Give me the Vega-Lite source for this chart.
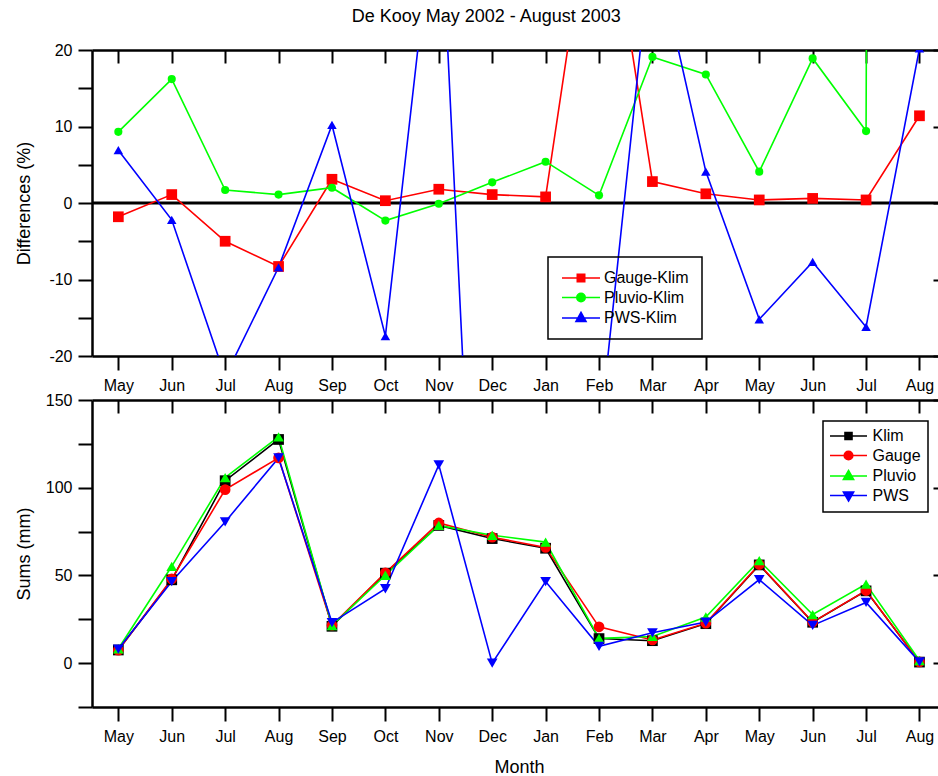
{
  "$schema": "https://vega.github.io/schema/vega-lite/v6.json",
  "padding": {"left": 15, "top": 8, "right": 0, "bottom": 0},
  "title": {"text": "De Kooy May 2002 - August 2003", "fontSize": 18, "fontWeight": "normal", "font": "Liberation Sans", "color": "black", "anchor": "middle", "offset": 16, "dx": 9},
  "config": {
    "view": {"stroke": null},
    "font": "Liberation Sans",
    "axis": {"domainColor": "black", "domainWidth": 2.5, "tickColor": "black", "tickWidth": 2, "labelFont": "Liberation Sans", "labelFontSize": 16, "labelColor": "black", "titleFont": "Liberation Sans", "titleFontSize": 18, "titleFontWeight": "normal", "titleColor": "black", "grid": false, "labelFlush": false, "labelOverlap": false}
  },
  "datasets": {
    "diff": [
      {"period": "May 2002", "Gauge-Klim": -1.8, "Pluvio-Klim": 9.3, "PWS-Klim": 6.9},
      {"period": "Jun 2002", "Gauge-Klim": 1.1, "Pluvio-Klim": 16.2, "PWS-Klim": -2.2},
      {"period": "Jul 2002", "Gauge-Klim": -5.0, "Pluvio-Klim": 1.7, "PWS-Klim": -22.7},
      {"period": "Aug 2002", "Gauge-Klim": -8.3, "Pluvio-Klim": 1.1, "PWS-Klim": -8.4},
      {"period": "Sep 2002", "Gauge-Klim": 3.1, "Pluvio-Klim": 2.0, "PWS-Klim": 10.2},
      {"period": "Oct 2002", "Gauge-Klim": 0.3, "Pluvio-Klim": -2.3, "PWS-Klim": -17.4},
      {"period": "Nov 2002", "Gauge-Klim": 1.8, "Pluvio-Klim": -0.1, "PWS-Klim": 44.3},
      {"period": "Dec 2002", "Gauge-Klim": 1.1, "Pluvio-Klim": 2.7, "PWS-Klim": -100},
      {"period": "Jan 2003", "Gauge-Klim": 0.8, "Pluvio-Klim": 5.4, "PWS-Klim": -29},
      {"period": "Feb 2003", "Gauge-Klim": 47.5, "Pluvio-Klim": 1.0, "PWS-Klim": -31},
      {"period": "Mar 2003", "Gauge-Klim": 2.8, "Pluvio-Klim": 19.1, "PWS-Klim": 35},
      {"period": "Apr 2003", "Gauge-Klim": 1.2, "Pluvio-Klim": 16.8, "PWS-Klim": 4.1},
      {"period": "May 2003", "Gauge-Klim": 0.4, "Pluvio-Klim": 4.1, "PWS-Klim": -15.2},
      {"period": "Jun 2003", "Gauge-Klim": 0.6, "Pluvio-Klim": 18.9, "PWS-Klim": -7.7},
      {"period": "Jul 2003", "Gauge-Klim": 0.4, "Pluvio-Klim": 9.4, "PWS-Klim": -16.2},
      {"period": "Aug 2003", "Gauge-Klim": 11.4, "Pluvio-Klim": 2000, "PWS-Klim": 20.2}
    ],
    "sums": [
      {"period": "May 2002", "Klim": 7.5, "Gauge": 7.4, "Pluvio": 8.2, "PWS": 8.0},
      {"period": "Jun 2002", "Klim": 47.5, "Gauge": 48.0, "Pluvio": 55.2, "PWS": 46.5},
      {"period": "Jul 2002", "Klim": 104, "Gauge": 98.9, "Pluvio": 105.8, "PWS": 80.5},
      {"period": "Aug 2002", "Klim": 127.5, "Gauge": 117, "Pluvio": 129, "PWS": 117},
      {"period": "Sep 2002", "Klim": 21, "Gauge": 21.6, "Pluvio": 21.4, "PWS": 23.1},
      {"period": "Oct 2002", "Klim": 51.3, "Gauge": 51.5, "Pluvio": 50.1, "PWS": 42.4},
      {"period": "Nov 2002", "Klim": 78.5, "Gauge": 79.9, "Pluvio": 78.5, "PWS": 113},
      {"period": "Dec 2002", "Klim": 71, "Gauge": 71.8, "Pluvio": 72.9, "PWS": 0},
      {"period": "Jan 2003", "Klim": 65.5, "Gauge": 66, "Pluvio": 69, "PWS": 46.5},
      {"period": "Feb 2003", "Klim": 14, "Gauge": 20.7, "Pluvio": 14.1, "PWS": 9.6},
      {"period": "Mar 2003", "Klim": 12.8, "Gauge": 13.2, "Pluvio": 15.2, "PWS": 17.3},
      {"period": "Apr 2003", "Klim": 22.5, "Gauge": 22.8, "Pluvio": 26.3, "PWS": 23.4},
      {"period": "May 2003", "Klim": 56, "Gauge": 56.2, "Pluvio": 58.4, "PWS": 47.6},
      {"period": "Jun 2003", "Klim": 23.3, "Gauge": 23.4, "Pluvio": 27.7, "PWS": 21.5},
      {"period": "Jul 2003", "Klim": 41.2, "Gauge": 41.4, "Pluvio": 45.1, "PWS": 34.6},
      {"period": "Aug 2003", "Klim": 0.6, "Gauge": 0.67, "Pluvio": 1.5, "PWS": 0.72}
    ]
  },
  "bounds": "flush",
  "spacing": 44,
  "vconcat": [
    {
      "width": 846,
      "height": 306,
      "resolve": {"axis": {"x": "independent", "y": "independent"}},
      "layer": [
        {
          "data": {"values": [{}]},
          "mark": {"type": "rule", "color": "black", "strokeWidth": 3},
          "encoding": {"y": {"datum": 0, "type": "quantitative", "axis": null}}
        },
        {
          "data": {"name": "diff"},
          "transform": [{"fold": ["Gauge-Klim", "Pluvio-Klim", "PWS-Klim"], "as": ["series", "value"]}],
          "mark": {"type": "line", "strokeWidth": 1.6, "clip": true},
          "encoding": {
            "x": {"field": "period", "type": "ordinal", "sort": null, "scale": {"type": "point", "padding": 0.42, "align": 0.587},
                  "axis": {"orient": "bottom", "title": null, "tickSize": 14, "labelPadding": 7, "labelAngle": 0, "labelExpr": "slice(datum.label, 0, 3)"}},
            "y": {"field": "value", "type": "quantitative", "scale": {"domain": [-20, 20], "nice": false, "zero": false},
                  "axis": {"orient": "left", "title": "Differences (%)", "values": [-20, -15, -10, -5, 0, 5, 10, 15, 20],
                           "labelExpr": "datum.value % 10 === 0 ? '' + datum.value : ''", "tickSize": 14, "labelPadding": 6,
                           "titleX": -68, "titleBaseline": "middle",
                           "encode": {"ticks": {"update": {"x2": {"signal": "datum.value % 10 === 0 ? -14 : -5"}}}}}},
            "color": {"field": "series", "type": "nominal",
                      "scale": {"domain": ["Gauge-Klim", "Pluvio-Klim", "PWS-Klim"], "range": ["#ff0000", "#00ff00", "#0000ff"]},
                      "legend": {"orient": "none", "legendX": 456, "legendY": 207, "title": null, "padding": 13, "rowPadding": 3.5,
                                 "labelFontSize": 16, "labelFont": "Liberation Sans", "labelColor": "black", "labelOffset": 15,
                                 "symbolSize": 100, "symbolOffset": 12, "strokeColor": "black",
                                 "encode": {
                                   "legend": {"update": {"strokeWidth": {"value": 1.5}}},
                                   "symbols": {"update": {
                                     "shape": {"signal": "datum.value === 'Gauge-Klim' ? 'M-3.8,0H3.8M-0.74,-0.74H0.74V0.74H-0.74Z' : datum.value === 'Pluvio-Klim' ? 'M-3.8,0H3.8M0.84,0A0.84,0.84,0,1,1,-0.84,0A0.84,0.84,0,1,1,0.84,0Z' : 'M-3.8,0H3.8M0,-1.1L1,0.7L-1,0.7Z'"},
                                     "fill": {"signal": "datum.value === 'Gauge-Klim' ? '#ff0000' : datum.value === 'Pluvio-Klim' ? '#00ff00' : '#0000ff'"},
                                     "stroke": {"signal": "datum.value === 'Gauge-Klim' ? '#ff0000' : datum.value === 'Pluvio-Klim' ? '#00ff00' : '#0000ff'"},
                                     "size": {"value": 100},
                                     "strokeWidth": {"value": 1.6},
                                     "opacity": {"value": 1}
                                   }}
                                 }}},
            "order": {"value": null}
          }
        },
        {
          "data": {"name": "diff"},
          "transform": [{"fold": ["Gauge-Klim", "Pluvio-Klim", "PWS-Klim"], "as": ["series", "value"]}],
          "mark": {"type": "point", "filled": true, "opacity": 1, "clip": true},
          "encoding": {
            "x": {"field": "period", "type": "ordinal", "sort": null,
                  "axis": {"orient": "top", "title": null, "labels": false, "tickSize": -13}},
            "y": {"field": "value", "type": "quantitative",
                  "axis": {"orient": "right", "title": null, "labels": false, "domain": false, "values": [-20, -10, 0, 10, 20], "tickSize": -5}},
            "color": {"field": "series", "type": "nominal", "legend": null},
            "shape": {"field": "series", "type": "nominal", "scale": {"domain": ["PWS-Klim", "Gauge-Klim", "Pluvio-Klim"], "range": ["triangle-up", "square", "circle"]}, "legend": null},
            "size": {"field": "series", "type": "nominal", "scale": {"domain": ["Pluvio-Klim", "PWS-Klim", "Gauge-Klim"], "range": [66, 115, 64]}, "legend": null}
          }
        }
      ]
    },
    {
      "width": 846,
      "height": 307,
      "resolve": {"axis": {"x": "independent", "y": "independent"}},
      "layer": [
        {
          "data": {"name": "sums"},
          "transform": [{"fold": ["Klim", "Gauge", "Pluvio", "PWS"], "as": ["series", "value"]}],
          "mark": {"type": "line", "strokeWidth": 1.6, "clip": true},
          "encoding": {
            "x": {"field": "period", "type": "ordinal", "sort": null, "scale": {"type": "point", "padding": 0.42, "align": 0.587},
                  "axis": {"orient": "bottom", "title": "Month", "titleX": 427, "titleY": 65, "titleBaseline": "alphabetic", "tickSize": 14, "labelPadding": 7, "labelAngle": 0, "labelExpr": "slice(datum.label, 0, 3)"}},
            "y": {"field": "value", "type": "quantitative", "scale": {"domain": [-25, 150], "nice": false, "zero": false},
                  "axis": {"orient": "left", "title": "Sums (mm)", "values": [-25, 0, 25, 50, 75, 100, 125, 150],
                           "labelExpr": "datum.value % 50 === 0 ? '' + datum.value : ''", "tickSize": 14, "labelPadding": 6,
                           "titleX": -68, "titleBaseline": "middle",
                           "encode": {"ticks": {"update": {"x2": {"signal": "datum.value % 50 === 0 ? -14 : -5"}}}}}},
            "color": {"field": "series", "type": "nominal",
                      "scale": {"domain": ["Klim", "Gauge", "Pluvio", "PWS"], "range": ["#000000", "#ff0000", "#00ff00", "#0000ff"]},
                      "legend": {"orient": "none", "legendX": 731, "legendY": 21, "title": null, "padding": 7, "rowPadding": 3.5,
                                 "labelFontSize": 16, "labelFont": "Liberation Sans", "labelColor": "black", "labelOffset": 16,
                                 "symbolSize": 100, "symbolOffset": 10.5, "strokeColor": "black",
                                 "encode": {
                                   "legend": {"update": {"strokeWidth": {"value": 1.5}}},
                                   "symbols": {"update": {
                                     "shape": {"signal": "datum.value === 'Klim' ? 'M-3.7,0H3.7M-0.7,-0.7H0.7V0.7H-0.7Z' : datum.value === 'Gauge' ? 'M-3.7,0H3.7M0.86,0A0.86,0.86,0,1,1,-0.86,0A0.86,0.86,0,1,1,0.86,0Z' : datum.value === 'Pluvio' ? 'M-3.7,0H3.7M0,-1.1L1.02,0.7L-1.02,0.7Z' : 'M-3.7,0H3.7M0,1.1L1.02,-0.7L-1.02,-0.7Z'"},
                                     "fill": {"signal": "datum.value === 'Klim' ? '#000000' : datum.value === 'Gauge' ? '#ff0000' : datum.value === 'Pluvio' ? '#00ff00' : '#0000ff'"},
                                     "stroke": {"signal": "datum.value === 'Klim' ? '#000000' : datum.value === 'Gauge' ? '#ff0000' : datum.value === 'Pluvio' ? '#00ff00' : '#0000ff'"},
                                     "size": {"value": 100},
                                     "strokeWidth": {"value": 1.6},
                                     "opacity": {"value": 1}
                                   }}
                                 }}},
            "order": {"value": null}
          }
        },
        {
          "data": {"name": "sums"},
          "transform": [{"fold": ["Klim", "Gauge", "Pluvio", "PWS"], "as": ["series", "value"]}],
          "mark": {"type": "point", "filled": true, "opacity": 1, "clip": true},
          "encoding": {
            "x": {"field": "period", "type": "ordinal", "sort": null,
                  "axis": {"orient": "top", "title": null, "labels": false, "tickSize": -13}},
            "y": {"field": "value", "type": "quantitative",
                  "axis": {"orient": "right", "title": null, "labels": false, "domain": false, "values": [0, 50, 100, 150], "tickSize": -5}},
            "color": {"field": "series", "type": "nominal", "legend": null},
            "shape": {"field": "series", "type": "nominal", "scale": {"domain": ["PWS", "Klim", "Gauge", "Pluvio"], "range": ["triangle-down", "square", "circle", "triangle-up"]}, "legend": null},
            "size": {"field": "series", "type": "nominal", "scale": {"domain": ["Pluvio", "PWS", "Klim", "Gauge"], "range": [115, 115, 64, 66]}, "legend": null}
          }
        }
      ]
    }
  ],
  "resolve": {"scale": {"color": "independent", "shape": "independent", "size": "independent", "x": "independent", "y": "independent"}, "legend": {"color": "independent"}}
}
